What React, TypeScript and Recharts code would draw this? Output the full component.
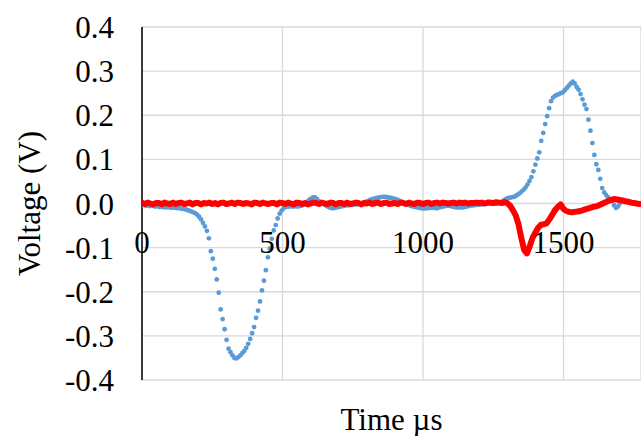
import React from 'react';
import { ScatterChart, Scatter, XAxis, YAxis, CartesianGrid } from 'recharts';

// Sampling steps (µs)
const BLUE_STEP = 7;
const RED_STEP = 10;

// Blue series (dots) – voltage read every 7 µs
const BLUE_V = [
  -0.004, -0.003, -0.005, -0.004, -0.006, -0.005, -0.006, -0.007, -0.006, -0.008,
  -0.007, -0.009, -0.008, -0.009, -0.008, -0.010, -0.009, -0.010, -0.011, -0.010,
  -0.012, -0.012, -0.013, -0.015, -0.016, -0.018, -0.020, -0.022, -0.025, -0.030,
  -0.036, -0.044, -0.052, -0.062, -0.079, -0.108, -0.125, -0.148, -0.172, -0.202,
  -0.240, -0.262, -0.285, -0.309, -0.329, -0.337, -0.344, -0.350, -0.351, -0.348,
  -0.344, -0.339, -0.334, -0.327, -0.318, -0.307, -0.294, -0.280, -0.259, -0.243,
  -0.222, -0.197, -0.175, -0.151, -0.122, -0.102, -0.080, -0.061, -0.049, -0.034,
  -0.023, -0.016, -0.011, -0.008, -0.007, -0.007, -0.006, -0.007, -0.006, -0.007,
  -0.006, -0.005, -0.003, 0.000, 0.004, 0.008, 0.011, 0.014, 0.014, 0.010,
  0.005, 0.001, -0.001, -0.003, -0.006, -0.008, -0.010, -0.011, -0.010, -0.009,
  -0.008, -0.007, -0.006, -0.005, -0.004, -0.004, -0.003, -0.003, -0.002, -0.002,
  -0.001, 0.000, 0.001, 0.002, 0.004, 0.006, 0.008, 0.010, 0.011, 0.012,
  0.013, 0.014, 0.015, 0.015, 0.015, 0.014, 0.013, 0.012, 0.011, 0.010,
  0.008, 0.006, 0.004, 0.002, 0.000, -0.002, -0.004, -0.006, -0.007, -0.008,
  -0.009, -0.010, -0.011, -0.011, -0.011, -0.011, -0.010, -0.010, -0.010, -0.010,
  -0.011, -0.009, -0.008, -0.007, -0.006, -0.005, -0.005, -0.006, -0.007, -0.008,
  -0.009, -0.009, -0.009, -0.009, -0.008, -0.007, -0.006, -0.005, -0.004, -0.004,
  -0.003, -0.003, -0.002, -0.002, -0.001, -0.001, 0.000, 0.000, 0.000, 0.000,
  0.000, 0.001, 0.002, 0.004, 0.007, 0.010, 0.012, 0.013, 0.014, 0.015,
  0.017, 0.020, 0.023, 0.027, 0.031, 0.036, 0.043, 0.051, 0.060, 0.073,
  0.088, 0.102, 0.116, 0.142, 0.160, 0.180, 0.198, 0.216, 0.232, 0.240,
  0.244, 0.246, 0.248, 0.250, 0.252, 0.257, 0.262, 0.267, 0.272, 0.276,
  0.272, 0.264, 0.258, 0.248, 0.236, 0.224, 0.214, 0.190, 0.165, 0.137,
  0.110, 0.089, 0.076, 0.056, 0.035, 0.025, 0.019, 0.014, 0.010, 0.006,
  -0.004, -0.010, -0.007, 0.000, 0.004, 0.006, 0.006, 0.005, 0.004, 0.003,
  0.002, 0.001, 0.000, -0.001, -0.001,
];

// Red series (thick line) – voltage read every 10 µs
const RED_V = [
  0.002, -0.001, 0.002, 0.000, -0.002, 0.001, 0.001, -0.002, 0.002, 0.000,
  -0.001, 0.002, -0.001, 0.001, 0.002, -0.001, 0.000, 0.002, -0.002, 0.001,
  0.001, -0.002, 0.001, 0.000, 0.002, -0.001, 0.001, -0.002, 0.001, 0.002,
  -0.001, 0.000, 0.002, -0.001, 0.002, 0.001, -0.001, 0.001, 0.000, -0.002,
  0.002, 0.001, -0.001, 0.002, 0.000, -0.001, 0.001, 0.001, -0.002, 0.002,
  0.001, -0.001, 0.002, 0.000, -0.002, 0.002, 0.001, -0.001, 0.001, -0.002,
  0.000, 0.002, 0.001, -0.001, 0.002, 0.000, -0.001, 0.002, 0.001, -0.002,
  0.001, 0.001, -0.001, 0.002, -0.001, 0.000, 0.002, 0.001, -0.002, 0.001,
  0.000, 0.002, -0.001, 0.001, 0.002, -0.001, 0.001, 0.002, -0.001, 0.000,
  0.001, -0.001, 0.002, 0.001, -0.001, 0.002, 0.000, -0.001, 0.002, 0.001,
  -0.001, 0.001, 0.002, -0.001, 0.001, 0.002, 0.000, 0.002, 0.001, 0.000,
  0.001, 0.002, 0.000, 0.002, 0.001, 0.002, 0.000, 0.001, 0.001, 0.002,
  0.001, 0.002, 0.000, 0.002, 0.002, 0.001, 0.003, 0.002, 0.001,
  0.003, 0.001, -0.005, -0.015, -0.027, -0.047, -0.078, -0.105, -0.113, -0.097,
  -0.078, -0.066, -0.055, -0.048, -0.047, -0.045, -0.036, -0.026, -0.015, -0.008,
  -0.002, -0.012, -0.017, -0.019, -0.020, -0.019, -0.018, -0.017, -0.015, -0.013,
  -0.011, -0.009, -0.007, -0.006, -0.003, 0.000, 0.003, 0.006, 0.008, 0.010,
  0.009, 0.008, 0.007, 0.005, 0.004, 0.002, 0.001, 0.000, -0.001,
];

const X_TICKS = [0, 500, 1000, 1500];
const Y_TICKS = [-0.4, -0.3, -0.2, -0.1, 0, 0.1, 0.2, 0.3, 0.4];

const blueData = BLUE_V.map((v, i) => ({ t: i * BLUE_STEP, v }));
const redData = RED_V.map((v, i) => ({ t: i * RED_STEP, v }));

const FONT = '"Liberation Serif", "Times New Roman", serif';
const FS = 31;
const PAGE_W = 641;
const PAGE_H = 436;
const CHART_W = 633;
const CHART_H = 428;
const M_TOP = 19;
const X_AXIS_H = 56;
const PLOT_H = CHART_H - M_TOP - X_AXIS_H;

const XTick = (props: any) => {
  const { x, y, payload } = props;
  return (
    <text x={x} y={y - PLOT_H / 2 + 49} textAnchor="middle" fontFamily={FONT} fontSize={FS} fill="#000">
      {payload.value}
    </text>
  );
};

const Dot = (props: any) => {
  const { cx, cy } = props;
  if (cx == null || cy == null) return <g />;
  return <circle cx={cx} cy={cy} r={2.4} fill="#5B9BD5" />;
};

const NoDot = () => <g />;

export default function App() {
  return (
    <>
      <style>{'body{margin:0}'}</style>
      <div
        style={{
          width: PAGE_W,
          height: PAGE_H,
          paddingTop: 8,
          paddingLeft: 8,
          boxSizing: 'border-box',
          overflow: 'hidden',
          background: '#fff',
        }}
      >
        <ScatterChart width={CHART_W} height={CHART_H} margin={{ top: M_TOP, right: 0, bottom: 0, left: 0 }}>
          <CartesianGrid stroke="#d9d9d9" strokeWidth={1.3} />
          <XAxis
            type="number"
            dataKey="t"
            domain={[0, 1776]}
            ticks={X_TICKS}
            allowDataOverflow
            height={X_AXIS_H}
            axisLine={false}
            tickLine={false}
            tickSize={0}
            tickMargin={0}
            tick={<XTick />}
            interval={0}
            label={{ value: 'Time µs', position: 'insideBottom', offset: 6, fill: '#000', fontSize: FS, fontFamily: FONT }}
          />
          <YAxis
            type="number"
            dataKey="v"
            domain={[-0.4, 0.4]}
            ticks={Y_TICKS}
            width={134}
            axisLine={{ stroke: '#000', strokeWidth: 1.5 }}
            tickLine={false}
            tickSize={0}
            tickMargin={28}
            interval={0}
            tickFormatter={(v: number) => v.toFixed(1)}
            tick={{ fill: '#000', fontSize: FS, fontFamily: FONT }}
            label={{ value: 'Voltage (V)', angle: -90, position: 'insideLeft', offset: 21, fill: '#000', fontSize: FS, fontFamily: FONT, style: { textAnchor: 'middle' } }}
          />
          <Scatter data={blueData} shape={<Dot />} isAnimationActive={false} />
          <Scatter
            data={redData}
            shape={<NoDot />}
            line={{ stroke: '#FF0000', strokeWidth: 6, strokeLinejoin: 'round', strokeLinecap: 'round' }}
            lineType="joint"
            isAnimationActive={false}
          />
        </ScatterChart>
      </div>
    </>
  );
}
